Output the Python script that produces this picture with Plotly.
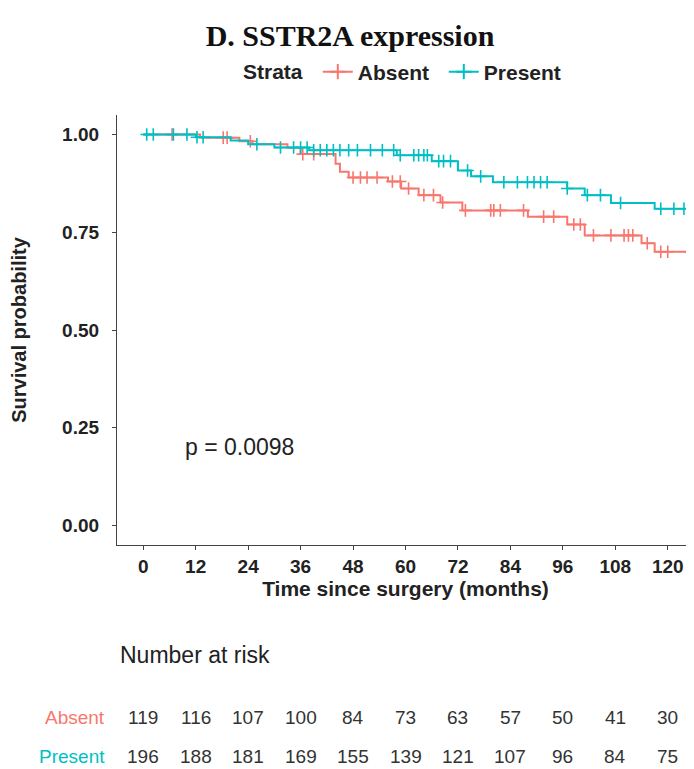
import plotly.graph_objects as go

# ---------------- data ----------------
absent_step_times = [13, 22, 25, 33, 36, 44, 45, 47, 56, 59, 63, 68, 73, 88, 97, 101, 114, 117]
absent_step_surv = [0.992, 0.983, 0.975, 0.966, 0.950, 0.925, 0.905, 0.89, 0.88, 0.862, 0.845,
                    0.826, 0.806, 0.79, 0.77, 0.742, 0.722, 0.70]
absent_censor = [6.6, 18.3, 19.2, 24.5, 36.5, 39, 48, 49.7, 51.2, 53.5, 57, 58.8, 60.7, 64.2,
                 66.4, 68.5, 73.7, 79.5, 80.2, 81.7, 87, 91.6, 93.9, 98.5, 100, 103, 107, 110,
                 111, 112, 115.3, 118.4, 120, 125]

present_step_times = [12, 20, 24, 30, 38, 58, 66, 72, 75, 80, 97, 101, 107, 117]
present_step_surv = [0.993, 0.985, 0.975, 0.967, 0.96, 0.947, 0.932, 0.908, 0.893, 0.878,
                     0.862, 0.845, 0.825, 0.81]
present_censor = [0.8, 2.3, 6.9, 10, 12.3, 13.7, 26, 31.4, 34.4, 36, 37.5, 39, 40.5, 42, 43.5,
                  45, 47, 49, 52, 54.7, 57.3, 58.8, 61.9, 63, 64.2, 65, 67.6, 68.7, 70.3, 74.2,
                  77.2, 82.5, 85.6, 87.9, 89.4, 90.9, 92.4, 97, 101.6, 104.6, 109.2, 118.4,
                  121.4, 123.7, 125.3]

end_time = 126
strata = ["Absent", "Present"]
risk_times = [0, 12, 24, 36, 48, 60, 72, 84, 96, 108, 120]
risk_absent = [119, 116, 107, 100, 84, 73, 63, 57, 50, 41, 30]
risk_present = [196, 188, 181, 169, 155, 139, 121, 107, 96, 84, 75]
y_ticks = [0.0, 0.25, 0.5, 0.75, 1.0]
y_ticklabels = ["0.00", "0.25", "0.50", "0.75", "1.00"]
p_text = "p = 0.0098"

colors = {"Absent": "#F8766D", "Present": "#00BFC4"}


def step_xy(times, surv):
    xs, ys = [0], [1.0]
    cur = 1.0
    for t, s in zip(times, surv):
        xs += [t, t]
        ys += [cur, s]
        cur = s
    xs.append(end_time)
    ys.append(cur)
    return xs, ys


def surv_at(times, surv, t):
    cur = 1.0
    for tt, s in zip(times, surv):
        if tt <= t:
            cur = s
    return cur


fig = go.Figure()
groups = {
    "Absent": (absent_step_times, absent_step_surv, absent_censor),
    "Present": (present_step_times, present_step_surv, present_censor),
}
for name in strata:
    st, ss, cens = groups[name]
    xs, ys = step_xy(st, ss)
    fig.add_trace(go.Scatter(x=xs, y=ys, mode="lines", line=dict(color=colors[name], width=2),
                             showlegend=False, hoverinfo="skip", cliponaxis=False))
    fig.add_trace(go.Scatter(x=cens, y=[surv_at(st, ss, c) for c in cens], mode="markers",
                             marker=dict(symbol="cross-thin", size=9,
                                         line=dict(color=colors[name], width=1.6)),
                             showlegend=False, hoverinfo="skip"))
    # legend entry
    fig.add_trace(go.Scatter(x=[None], y=[None], mode="lines+markers", name=name,
                             line=dict(color=colors[name], width=2),
                             marker=dict(symbol="cross-thin", size=11,
                                         line=dict(color=colors[name], width=2))))

# The page body adds an 8px offset; the figure is sized to fit the 694x769 window.
W, H = 686, 761
sans = "Liberation Sans, Arial, sans-serif"
fig.update_layout(
    width=W, height=H,
    margin=dict(l=109, r=0, t=107, b=224, autoexpand=False),
    paper_bgcolor="white", plot_bgcolor="white",
    font=dict(family=sans, color="#222"),
    title=dict(text="D. SSTR2A expression", x=342 / W, xref="container", xanchor="center",
               y=1 - 27 / H, yanchor="middle",
               font=dict(family="Liberation Serif, Times New Roman, serif", size=30,
                         weight="bold", color="#111")),
    legend=dict(orientation="h", x=0.348, xanchor="left", y=1.1, yanchor="middle",
                font=dict(size=21, weight="bold", color="#222"), entrywidth=81,
                itemwidth=30, bgcolor="rgba(0,0,0,0)", tracegroupgap=0),
    xaxis=dict(range=[-6, 126], tickvals=risk_times, ticks="outside", ticklen=4,
               tickcolor="#444", showline=True, linecolor="#444", linewidth=1.2,
               showgrid=False, zeroline=False, ticklabelstandoff=0,
               tickfont=dict(size=19, weight="bold", color="#222"),
               title=dict(text="Time since surgery (months)", standoff=4,
                          font=dict(size=21, weight="bold", color="#222"))),
    yaxis=dict(range=[-0.05, 1.05], tickvals=y_ticks, ticktext=y_ticklabels, ticks="outside",
               ticklen=4, tickcolor="#444", showline=True, linecolor="#444", linewidth=1.2,
               showgrid=False, zeroline=False, ticklabelstandoff=9,
               tickfont=dict(size=19, weight="bold", color="#222"),
               title=dict(text="Survival probability", standoff=30,
                          font=dict(size=20, weight="bold", color="#222"))),
)

annotations = [
    dict(x=(305 - 117) / 577, y=1.1, xref="paper", yref="paper", text="<b>Strata</b>",
         showarrow=False, xanchor="right", yanchor="middle", font=dict(size=21, color="#222")),
    dict(x=9.2, y=0.2, xref="x", yref="y", text=p_text, showarrow=False, xanchor="left",
         yanchor="middle", font=dict(size=23, color="#222")),
    dict(x=0.002, y=-0.256, xref="paper", yref="paper", text="Number at risk", showarrow=False,
         xanchor="left", yanchor="middle", font=dict(size=23, color="#222")),
]
row_y = {"Absent": -0.402, "Present": -0.493}
row_vals = {"Absent": risk_absent, "Present": risk_present}
for name in strata:
    annotations.append(dict(x=-0.017, y=row_y[name], xref="paper", yref="paper", text=name,
                            showarrow=False, xanchor="right", yanchor="middle",
                            font=dict(size=19, color=colors[name])))
    for t, v in zip(risk_times, row_vals[name]):
        annotations.append(dict(x=t, y=row_y[name], xref="x", yref="paper", text=str(v),
                                showarrow=False, xanchor="center", yanchor="middle",
                                font=dict(size=19, color="#333")))
fig.update_layout(annotations=annotations)

fig.write_html("out.html")
